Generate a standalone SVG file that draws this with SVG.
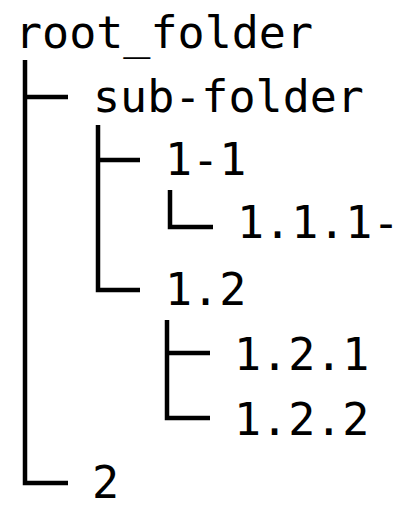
<svg xmlns="http://www.w3.org/2000/svg" width="417" height="512" viewBox="0 0 417 512">
<style>
text{font-family:"DejaVu Sans Mono",monospace;font-size:45px;fill:#000}
.c path{fill:none;stroke:#000;stroke-width:4.5;stroke-linecap:butt;stroke-linejoin:miter}
</style>
<rect width="417" height="512" fill="#fff"/>
<g class="c" id="connectors">
<path d="M25,60V483H68"/>
<path d="M25,97H68"/>
<path d="M98,125V290H140"/>
<path d="M98,160H140"/>
<path d="M170,190V227H213"/>
<path d="M167,320V418H210"/>
<path d="M167,353H210"/>
</g>
<g id="root"><text x="15" y="48">root_folder</text></g>
<g id="sub"><text x="93" y="112">sub-folder</text></g>
<g id="n11"><text x="165" y="175">1-1</text></g>
<g id="n111"><text x="237" y="238">1.1.1-</text></g>
<g id="n12"><text x="165" y="305">1.2</text></g>
<g id="n121"><text x="234" y="370">1.2.1</text></g>
<g id="n122"><text x="234" y="435">1.2.2</text></g>
<g id="n2"><text x="92" y="498">2</text></g>
</svg>
